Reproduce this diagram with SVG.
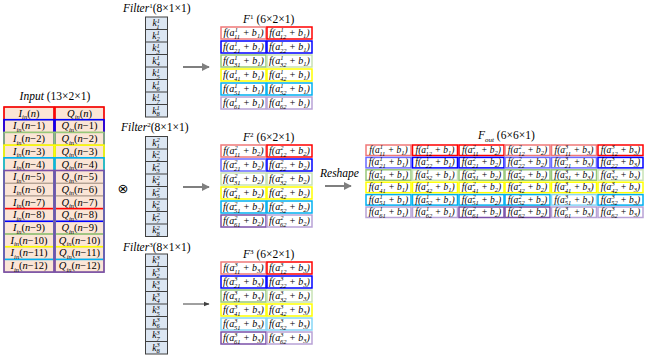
<svg xmlns="http://www.w3.org/2000/svg" width="646" height="357" viewBox="0 0 646 357">
<defs>
<style>
text{font-family:"Liberation Serif","Times New Roman",serif;fill:#000}
.it{font-style:italic}
.ti{font-size:11.5px}
.sp{font-size:7px}
.c{font-size:10px;font-style:italic;text-anchor:middle}
.co{font-size:9.5px;font-style:italic;text-anchor:middle}
.u{font-size:6.5px}
.in{font-size:10.5px;text-anchor:middle}
.k{font-size:9.5px;font-style:italic;text-anchor:middle}
.bx{fill:#fff;stroke-width:1.5}
.r{stroke:#ff0000}.rl{stroke:#f07878}
.b{stroke:#0000ff}.bl{stroke:#6a6aff}
.g{stroke:#98c878}.gl{stroke:#c8e2b4}
.y{stroke:#ffff00}
.cy{stroke:#00b0f0}.cl{stroke:#86d6f6}
.p{stroke:#7a4fa8}.pl{stroke:#b8a2d6}
.fc{fill:#dce6f2;stroke:#404040;stroke-width:1}
.ic{fill:#fbe5d6;stroke:#7f6f5f;stroke-width:0.8}
.win{fill:none;stroke-width:1.6}
.arr{stroke:#7f7f7f;stroke-width:2;fill:none}
</style>
<marker id="ah" viewBox="0 0 10 10" refX="9" refY="5" markerWidth="4" markerHeight="4" orient="auto">
<path d="M0,0 L10,5 L0,10 z" fill="#7f7f7f"/>
</marker>
<marker id="ah2" viewBox="0 0 10 10" refX="9" refY="5" markerWidth="6" markerHeight="6" orient="auto">
<path d="M0,1 L10,5 L0,9 z" fill="#404040"/>
</marker>
</defs>

<g id="input">
<text class="ti" x="55" y="100" text-anchor="middle"><tspan class="it">Input</tspan>  (13×2×1)</text>
<rect class="ic" x="4" y="107" width="50" height="165.1"/>
<rect class="ic" x="55" y="107" width="49" height="165.1"/>
<path d="M4,119.7H104M4,132.4H104M4,145.1H104M4,157.8H104M4,170.5H104M4,183.2H104M4,195.9H104M4,208.6H104M4,221.3H104M4,234H104M4,246.7H104M4,259.4H104" stroke="#7f6f5f" stroke-width="0.8"/>
<rect class="win r" x="4" y="107" width="50" height="101.6"/><rect class="win r" x="55" y="107" width="49" height="101.6"/>
<rect class="win b" x="4" y="119.7" width="50" height="101.6"/><rect class="win b" x="55" y="119.7" width="49" height="101.6"/>
<rect class="win g" x="4" y="132.4" width="50" height="101.6"/><rect class="win g" x="55" y="132.4" width="49" height="101.6"/>
<rect class="win y" x="4" y="145.1" width="50" height="101.6"/><rect class="win y" x="55" y="145.1" width="49" height="101.6"/>
<rect class="win cy" x="4" y="157.8" width="50" height="101.6"/><rect class="win cy" x="55" y="157.8" width="49" height="101.6"/>
<rect class="win p" x="4" y="170.5" width="50" height="101.6"/><rect class="win p" x="55" y="170.5" width="49" height="101.6"/>
<text class="in" x="29" y="116.7"><tspan class="it">I</tspan><tspan class="u it" dy="2.5">in</tspan><tspan dy="-2.5">(</tspan><tspan class="it">n</tspan>)</text>
<text class="in" x="79.5" y="116.7"><tspan class="it">Q</tspan><tspan class="u it" dy="2.5">in</tspan><tspan dy="-2.5">(</tspan><tspan class="it">n</tspan>)</text>
<text class="in" x="29" y="129.4"><tspan class="it">I</tspan><tspan class="u it" dy="2.5">in</tspan><tspan dy="-2.5">(</tspan><tspan class="it">n</tspan>−1)</text>
<text class="in" x="79.5" y="129.4"><tspan class="it">Q</tspan><tspan class="u it" dy="2.5">in</tspan><tspan dy="-2.5">(</tspan><tspan class="it">n</tspan>−1)</text>
<text class="in" x="29" y="142.1"><tspan class="it">I</tspan><tspan class="u it" dy="2.5">in</tspan><tspan dy="-2.5">(</tspan><tspan class="it">n</tspan>−2)</text>
<text class="in" x="79.5" y="142.1"><tspan class="it">Q</tspan><tspan class="u it" dy="2.5">in</tspan><tspan dy="-2.5">(</tspan><tspan class="it">n</tspan>−2)</text>
<text class="in" x="29" y="154.8"><tspan class="it">I</tspan><tspan class="u it" dy="2.5">in</tspan><tspan dy="-2.5">(</tspan><tspan class="it">n</tspan>−3)</text>
<text class="in" x="79.5" y="154.8"><tspan class="it">Q</tspan><tspan class="u it" dy="2.5">in</tspan><tspan dy="-2.5">(</tspan><tspan class="it">n</tspan>−3)</text>
<text class="in" x="29" y="167.5"><tspan class="it">I</tspan><tspan class="u it" dy="2.5">in</tspan><tspan dy="-2.5">(</tspan><tspan class="it">n</tspan>−4)</text>
<text class="in" x="79.5" y="167.5"><tspan class="it">Q</tspan><tspan class="u it" dy="2.5">in</tspan><tspan dy="-2.5">(</tspan><tspan class="it">n</tspan>−4)</text>
<text class="in" x="29" y="180.2"><tspan class="it">I</tspan><tspan class="u it" dy="2.5">in</tspan><tspan dy="-2.5">(</tspan><tspan class="it">n</tspan>−5)</text>
<text class="in" x="79.5" y="180.2"><tspan class="it">Q</tspan><tspan class="u it" dy="2.5">in</tspan><tspan dy="-2.5">(</tspan><tspan class="it">n</tspan>−5)</text>
<text class="in" x="29" y="192.9"><tspan class="it">I</tspan><tspan class="u it" dy="2.5">in</tspan><tspan dy="-2.5">(</tspan><tspan class="it">n</tspan>−6)</text>
<text class="in" x="79.5" y="192.9"><tspan class="it">Q</tspan><tspan class="u it" dy="2.5">in</tspan><tspan dy="-2.5">(</tspan><tspan class="it">n</tspan>−6)</text>
<text class="in" x="29" y="205.6"><tspan class="it">I</tspan><tspan class="u it" dy="2.5">in</tspan><tspan dy="-2.5">(</tspan><tspan class="it">n</tspan>−7)</text>
<text class="in" x="79.5" y="205.6"><tspan class="it">Q</tspan><tspan class="u it" dy="2.5">in</tspan><tspan dy="-2.5">(</tspan><tspan class="it">n</tspan>−7)</text>
<text class="in" x="29" y="218.3"><tspan class="it">I</tspan><tspan class="u it" dy="2.5">in</tspan><tspan dy="-2.5">(</tspan><tspan class="it">n</tspan>−8)</text>
<text class="in" x="79.5" y="218.3"><tspan class="it">Q</tspan><tspan class="u it" dy="2.5">in</tspan><tspan dy="-2.5">(</tspan><tspan class="it">n</tspan>−8)</text>
<text class="in" x="29" y="231"><tspan class="it">I</tspan><tspan class="u it" dy="2.5">in</tspan><tspan dy="-2.5">(</tspan><tspan class="it">n</tspan>−9)</text>
<text class="in" x="79.5" y="231"><tspan class="it">Q</tspan><tspan class="u it" dy="2.5">in</tspan><tspan dy="-2.5">(</tspan><tspan class="it">n</tspan>−9)</text>
<text class="in" x="29" y="243.7"><tspan class="it">I</tspan><tspan class="u it" dy="2.5">in</tspan><tspan dy="-2.5">(</tspan><tspan class="it">n</tspan>−10)</text>
<text class="in" x="79.5" y="243.7"><tspan class="it">Q</tspan><tspan class="u it" dy="2.5">in</tspan><tspan dy="-2.5">(</tspan><tspan class="it">n</tspan>−10)</text>
<text class="in" x="29" y="256.4"><tspan class="it">I</tspan><tspan class="u it" dy="2.5">in</tspan><tspan dy="-2.5">(</tspan><tspan class="it">n</tspan>−11)</text>
<text class="in" x="79.5" y="256.4"><tspan class="it">Q</tspan><tspan class="u it" dy="2.5">in</tspan><tspan dy="-2.5">(</tspan><tspan class="it">n</tspan>−11)</text>
<text class="in" x="29" y="269.1"><tspan class="it">I</tspan><tspan class="u it" dy="2.5">in</tspan><tspan dy="-2.5">(</tspan><tspan class="it">n</tspan>−12)</text>
<text class="in" x="79.5" y="269.1"><tspan class="it">Q</tspan><tspan class="u it" dy="2.5">in</tspan><tspan dy="-2.5">(</tspan><tspan class="it">n</tspan>−12)</text>
</g>

<g id="conv">
<text x="123" y="193" text-anchor="middle" style="font-family:'DejaVu Sans',sans-serif;font-size:13px">⊗</text>
</g>

<g id="filter1">
<text class="ti" x="123" y="12"><tspan class="it">Filter</tspan><tspan class="sp" dy="-4">1</tspan><tspan dy="4">(8×1×1)</tspan></text>
<rect class="fc" x="145.5" y="17" width="22" height="100"/>
<path d="M145.5,29.5h22M145.5,42h22M145.5,54.5h22M145.5,67h22M145.5,79.5h22M145.5,92h22M145.5,104.5h22" stroke="#404040" stroke-width="1"/>
<text class="k" x="156" y="26">k<tspan class="u" dy="-3.5">1</tspan><tspan class="u" dx="-3.2" dy="6">1</tspan></text>
<text class="k" x="156" y="38.5">k<tspan class="u" dy="-3.5">1</tspan><tspan class="u" dx="-3.2" dy="6">2</tspan></text>
<text class="k" x="156" y="51">k<tspan class="u" dy="-3.5">1</tspan><tspan class="u" dx="-3.2" dy="6">3</tspan></text>
<text class="k" x="156" y="63.5">k<tspan class="u" dy="-3.5">1</tspan><tspan class="u" dx="-3.2" dy="6">4</tspan></text>
<text class="k" x="156" y="76">k<tspan class="u" dy="-3.5">1</tspan><tspan class="u" dx="-3.2" dy="6">5</tspan></text>
<text class="k" x="156" y="88.5">k<tspan class="u" dy="-3.5">1</tspan><tspan class="u" dx="-3.2" dy="6">6</tspan></text>
<text class="k" x="156" y="101">k<tspan class="u" dy="-3.5">1</tspan><tspan class="u" dx="-3.2" dy="6">7</tspan></text>
<text class="k" x="156" y="113.5">k<tspan class="u" dy="-3.5">1</tspan><tspan class="u" dx="-3.2" dy="6">8</tspan></text>
</g>

<g id="filter2">
<text class="ti" x="121" y="131"><tspan class="it">Filter</tspan><tspan class="sp" dy="-4">2</tspan><tspan dy="4">(8×1×1)</tspan></text>
<rect class="fc" x="145.5" y="136.5" width="22" height="100"/>
<path d="M145.5,149h22M145.5,161.5h22M145.5,174h22M145.5,186.5h22M145.5,199h22M145.5,211.5h22M145.5,224h22" stroke="#404040" stroke-width="1"/>
<text class="k" x="156" y="145.5">k<tspan class="u" dy="-3.5">2</tspan><tspan class="u" dx="-3.2" dy="6">1</tspan></text>
<text class="k" x="156" y="158">k<tspan class="u" dy="-3.5">2</tspan><tspan class="u" dx="-3.2" dy="6">2</tspan></text>
<text class="k" x="156" y="170.5">k<tspan class="u" dy="-3.5">2</tspan><tspan class="u" dx="-3.2" dy="6">3</tspan></text>
<text class="k" x="156" y="183">k<tspan class="u" dy="-3.5">2</tspan><tspan class="u" dx="-3.2" dy="6">4</tspan></text>
<text class="k" x="156" y="195.5">k<tspan class="u" dy="-3.5">2</tspan><tspan class="u" dx="-3.2" dy="6">5</tspan></text>
<text class="k" x="156" y="208">k<tspan class="u" dy="-3.5">2</tspan><tspan class="u" dx="-3.2" dy="6">6</tspan></text>
<text class="k" x="156" y="220.5">k<tspan class="u" dy="-3.5">2</tspan><tspan class="u" dx="-3.2" dy="6">7</tspan></text>
<text class="k" x="156" y="233">k<tspan class="u" dy="-3.5">2</tspan><tspan class="u" dx="-3.2" dy="6">8</tspan></text>
</g>

<g id="filter3">
<text class="ti" x="123" y="251"><tspan class="it">Filter</tspan><tspan class="sp" dy="-4">3</tspan><tspan dy="4">(8×1×1)</tspan></text>
<rect class="fc" x="145.5" y="254" width="22" height="100"/>
<path d="M145.5,266.5h22M145.5,279h22M145.5,291.5h22M145.5,304h22M145.5,316.5h22M145.5,329h22M145.5,341.5h22" stroke="#404040" stroke-width="1"/>
<text class="k" x="156" y="263">k<tspan class="u" dy="-3.5">3</tspan><tspan class="u" dx="-3.2" dy="6">1</tspan></text>
<text class="k" x="156" y="275.5">k<tspan class="u" dy="-3.5">3</tspan><tspan class="u" dx="-3.2" dy="6">2</tspan></text>
<text class="k" x="156" y="288">k<tspan class="u" dy="-3.5">3</tspan><tspan class="u" dx="-3.2" dy="6">3</tspan></text>
<text class="k" x="156" y="300.5">k<tspan class="u" dy="-3.5">3</tspan><tspan class="u" dx="-3.2" dy="6">4</tspan></text>
<text class="k" x="156" y="313">k<tspan class="u" dy="-3.5">3</tspan><tspan class="u" dx="-3.2" dy="6">5</tspan></text>
<text class="k" x="156" y="325.5">k<tspan class="u" dy="-3.5">3</tspan><tspan class="u" dx="-3.2" dy="6">6</tspan></text>
<text class="k" x="156" y="338">k<tspan class="u" dy="-3.5">3</tspan><tspan class="u" dx="-3.2" dy="6">7</tspan></text>
<text class="k" x="156" y="350.5">k<tspan class="u" dy="-3.5">3</tspan><tspan class="u" dx="-3.2" dy="6">8</tspan></text>
</g>

<g id="f1">
<text class="ti" x="243" y="23"><tspan class="it">F</tspan><tspan class="sp" dy="-4">1</tspan><tspan dy="4"> (6×2×1)</tspan></text>
<rect class="bx rl" x="221" y="27" width="45" height="12"/><rect class="bx r" x="267" y="27" width="45" height="12"/>
<rect class="bx b" x="221" y="41" width="45" height="12"/><rect class="bx b" x="267" y="41" width="45" height="12"/>
<rect class="bx g" x="221" y="55" width="45" height="12"/><rect class="bx gl" x="267" y="55" width="45" height="12"/>
<rect class="bx y" x="221" y="69" width="45" height="12"/><rect class="bx y" x="267" y="69" width="45" height="12"/>
<rect class="bx cy" x="221" y="83" width="45" height="12"/><rect class="bx cy" x="267" y="83" width="45" height="12"/>
<rect class="bx pl" x="221" y="97" width="45" height="12"/><rect class="bx pl" x="267" y="97" width="45" height="12"/>
<text class="c" x="243.5" y="36">f(a<tspan class="u" dy="-4">1</tspan><tspan class="u" dx="-3.3" dy="6.5">11</tspan><tspan dy="-2.5"> + b</tspan><tspan class="u" dy="2">1</tspan><tspan dy="-2">)</tspan></text>
<text class="c" x="289.5" y="36">f(a<tspan class="u" dy="-4">1</tspan><tspan class="u" dx="-3.3" dy="6.5">12</tspan><tspan dy="-2.5"> + b</tspan><tspan class="u" dy="2">1</tspan><tspan dy="-2">)</tspan></text>
<text class="c" x="243.5" y="50">f(a<tspan class="u" dy="-4">1</tspan><tspan class="u" dx="-3.3" dy="6.5">21</tspan><tspan dy="-2.5"> + b</tspan><tspan class="u" dy="2">1</tspan><tspan dy="-2">)</tspan></text>
<text class="c" x="289.5" y="50">f(a<tspan class="u" dy="-4">1</tspan><tspan class="u" dx="-3.3" dy="6.5">22</tspan><tspan dy="-2.5"> + b</tspan><tspan class="u" dy="2">1</tspan><tspan dy="-2">)</tspan></text>
<text class="c" x="243.5" y="64">f(a<tspan class="u" dy="-4">1</tspan><tspan class="u" dx="-3.3" dy="6.5">31</tspan><tspan dy="-2.5"> + b</tspan><tspan class="u" dy="2">1</tspan><tspan dy="-2">)</tspan></text>
<text class="c" x="289.5" y="64">f(a<tspan class="u" dy="-4">1</tspan><tspan class="u" dx="-3.3" dy="6.5">32</tspan><tspan dy="-2.5"> + b</tspan><tspan class="u" dy="2">1</tspan><tspan dy="-2">)</tspan></text>
<text class="c" x="243.5" y="78">f(a<tspan class="u" dy="-4">1</tspan><tspan class="u" dx="-3.3" dy="6.5">41</tspan><tspan dy="-2.5"> + b</tspan><tspan class="u" dy="2">1</tspan><tspan dy="-2">)</tspan></text>
<text class="c" x="289.5" y="78">f(a<tspan class="u" dy="-4">1</tspan><tspan class="u" dx="-3.3" dy="6.5">42</tspan><tspan dy="-2.5"> + b</tspan><tspan class="u" dy="2">1</tspan><tspan dy="-2">)</tspan></text>
<text class="c" x="243.5" y="92">f(a<tspan class="u" dy="-4">1</tspan><tspan class="u" dx="-3.3" dy="6.5">51</tspan><tspan dy="-2.5"> + b</tspan><tspan class="u" dy="2">1</tspan><tspan dy="-2">)</tspan></text>
<text class="c" x="289.5" y="92">f(a<tspan class="u" dy="-4">1</tspan><tspan class="u" dx="-3.3" dy="6.5">52</tspan><tspan dy="-2.5"> + b</tspan><tspan class="u" dy="2">1</tspan><tspan dy="-2">)</tspan></text>
<text class="c" x="243.5" y="106">f(a<tspan class="u" dy="-4">1</tspan><tspan class="u" dx="-3.3" dy="6.5">61</tspan><tspan dy="-2.5"> + b</tspan><tspan class="u" dy="2">1</tspan><tspan dy="-2">)</tspan></text>
<text class="c" x="289.5" y="106">f(a<tspan class="u" dy="-4">1</tspan><tspan class="u" dx="-3.3" dy="6.5">62</tspan><tspan dy="-2.5"> + b</tspan><tspan class="u" dy="2">1</tspan><tspan dy="-2">)</tspan></text>
</g>

<g id="f2">
<text class="ti" x="243" y="141"><tspan class="it">F</tspan><tspan class="sp" dy="-4">2</tspan><tspan dy="4"> (6×2×1)</tspan></text>
<rect class="bx rl" x="221" y="145" width="45" height="12"/><rect class="bx r" x="267" y="145" width="45" height="12"/>
<rect class="bx bl" x="221" y="159" width="45" height="12"/><rect class="bx b" x="267" y="159" width="45" height="12"/>
<rect class="bx gl" x="221" y="173" width="45" height="12"/><rect class="bx gl" x="267" y="173" width="45" height="12"/>
<rect class="bx y" x="221" y="187" width="45" height="12"/><rect class="bx y" x="267" y="187" width="45" height="12"/>
<rect class="bx cy" x="221" y="201" width="45" height="12"/><rect class="bx cy" x="267" y="201" width="45" height="12"/>
<rect class="bx p" x="221" y="215" width="45" height="12"/><rect class="bx pl" x="267" y="215" width="45" height="12"/>
<text class="c" x="243.5" y="154">f(a<tspan class="u" dy="-4">2</tspan><tspan class="u" dx="-3.3" dy="6.5">11</tspan><tspan dy="-2.5"> + b</tspan><tspan class="u" dy="2">2</tspan><tspan dy="-2">)</tspan></text>
<text class="c" x="289.5" y="154">f(a<tspan class="u" dy="-4">2</tspan><tspan class="u" dx="-3.3" dy="6.5">12</tspan><tspan dy="-2.5"> + b</tspan><tspan class="u" dy="2">2</tspan><tspan dy="-2">)</tspan></text>
<text class="c" x="243.5" y="168">f(a<tspan class="u" dy="-4">2</tspan><tspan class="u" dx="-3.3" dy="6.5">21</tspan><tspan dy="-2.5"> + b</tspan><tspan class="u" dy="2">2</tspan><tspan dy="-2">)</tspan></text>
<text class="c" x="289.5" y="168">f(a<tspan class="u" dy="-4">2</tspan><tspan class="u" dx="-3.3" dy="6.5">22</tspan><tspan dy="-2.5"> + b</tspan><tspan class="u" dy="2">2</tspan><tspan dy="-2">)</tspan></text>
<text class="c" x="243.5" y="182">f(a<tspan class="u" dy="-4">2</tspan><tspan class="u" dx="-3.3" dy="6.5">31</tspan><tspan dy="-2.5"> + b</tspan><tspan class="u" dy="2">2</tspan><tspan dy="-2">)</tspan></text>
<text class="c" x="289.5" y="182">f(a<tspan class="u" dy="-4">2</tspan><tspan class="u" dx="-3.3" dy="6.5">32</tspan><tspan dy="-2.5"> + b</tspan><tspan class="u" dy="2">2</tspan><tspan dy="-2">)</tspan></text>
<text class="c" x="243.5" y="196">f(a<tspan class="u" dy="-4">2</tspan><tspan class="u" dx="-3.3" dy="6.5">41</tspan><tspan dy="-2.5"> + b</tspan><tspan class="u" dy="2">2</tspan><tspan dy="-2">)</tspan></text>
<text class="c" x="289.5" y="196">f(a<tspan class="u" dy="-4">2</tspan><tspan class="u" dx="-3.3" dy="6.5">42</tspan><tspan dy="-2.5"> + b</tspan><tspan class="u" dy="2">2</tspan><tspan dy="-2">)</tspan></text>
<text class="c" x="243.5" y="210">f(a<tspan class="u" dy="-4">2</tspan><tspan class="u" dx="-3.3" dy="6.5">51</tspan><tspan dy="-2.5"> + b</tspan><tspan class="u" dy="2">2</tspan><tspan dy="-2">)</tspan></text>
<text class="c" x="289.5" y="210">f(a<tspan class="u" dy="-4">2</tspan><tspan class="u" dx="-3.3" dy="6.5">52</tspan><tspan dy="-2.5"> + b</tspan><tspan class="u" dy="2">2</tspan><tspan dy="-2">)</tspan></text>
<text class="c" x="243.5" y="224">f(a<tspan class="u" dy="-4">2</tspan><tspan class="u" dx="-3.3" dy="6.5">61</tspan><tspan dy="-2.5"> + b</tspan><tspan class="u" dy="2">2</tspan><tspan dy="-2">)</tspan></text>
<text class="c" x="289.5" y="224">f(a<tspan class="u" dy="-4">2</tspan><tspan class="u" dx="-3.3" dy="6.5">62</tspan><tspan dy="-2.5"> + b</tspan><tspan class="u" dy="2">2</tspan><tspan dy="-2">)</tspan></text>
</g>

<g id="f3">
<text class="ti" x="243" y="258"><tspan class="it">F</tspan><tspan class="sp" dy="-4">3</tspan><tspan dy="4"> (6×2×1)</tspan></text>
<rect class="bx rl" x="221" y="262" width="45" height="12"/><rect class="bx r" x="267" y="262" width="45" height="12"/>
<rect class="bx b" x="221" y="276" width="45" height="12"/><rect class="bx b" x="267" y="276" width="45" height="12"/>
<rect class="bx g" x="221" y="290" width="45" height="12"/><rect class="bx gl" x="267" y="290" width="45" height="12"/>
<rect class="bx y" x="221" y="304" width="45" height="12"/><rect class="bx y" x="267" y="304" width="45" height="12"/>
<rect class="bx cl" x="221" y="318" width="45" height="12"/><rect class="bx cl" x="267" y="318" width="45" height="12"/>
<rect class="bx p" x="221" y="332" width="45" height="12"/><rect class="bx pl" x="267" y="332" width="45" height="12"/>
<text class="c" x="243.5" y="271">f(a<tspan class="u" dy="-4">3</tspan><tspan class="u" dx="-3.3" dy="6.5">11</tspan><tspan dy="-2.5"> + b</tspan><tspan class="u" dy="2">3</tspan><tspan dy="-2">)</tspan></text>
<text class="c" x="289.5" y="271">f(a<tspan class="u" dy="-4">3</tspan><tspan class="u" dx="-3.3" dy="6.5">12</tspan><tspan dy="-2.5"> + b</tspan><tspan class="u" dy="2">3</tspan><tspan dy="-2">)</tspan></text>
<text class="c" x="243.5" y="285">f(a<tspan class="u" dy="-4">3</tspan><tspan class="u" dx="-3.3" dy="6.5">21</tspan><tspan dy="-2.5"> + b</tspan><tspan class="u" dy="2">3</tspan><tspan dy="-2">)</tspan></text>
<text class="c" x="289.5" y="285">f(a<tspan class="u" dy="-4">3</tspan><tspan class="u" dx="-3.3" dy="6.5">22</tspan><tspan dy="-2.5"> + b</tspan><tspan class="u" dy="2">3</tspan><tspan dy="-2">)</tspan></text>
<text class="c" x="243.5" y="299">f(a<tspan class="u" dy="-4">3</tspan><tspan class="u" dx="-3.3" dy="6.5">31</tspan><tspan dy="-2.5"> + b</tspan><tspan class="u" dy="2">3</tspan><tspan dy="-2">)</tspan></text>
<text class="c" x="289.5" y="299">f(a<tspan class="u" dy="-4">3</tspan><tspan class="u" dx="-3.3" dy="6.5">32</tspan><tspan dy="-2.5"> + b</tspan><tspan class="u" dy="2">3</tspan><tspan dy="-2">)</tspan></text>
<text class="c" x="243.5" y="313">f(a<tspan class="u" dy="-4">3</tspan><tspan class="u" dx="-3.3" dy="6.5">41</tspan><tspan dy="-2.5"> + b</tspan><tspan class="u" dy="2">3</tspan><tspan dy="-2">)</tspan></text>
<text class="c" x="289.5" y="313">f(a<tspan class="u" dy="-4">3</tspan><tspan class="u" dx="-3.3" dy="6.5">42</tspan><tspan dy="-2.5"> + b</tspan><tspan class="u" dy="2">3</tspan><tspan dy="-2">)</tspan></text>
<text class="c" x="243.5" y="327">f(a<tspan class="u" dy="-4">3</tspan><tspan class="u" dx="-3.3" dy="6.5">51</tspan><tspan dy="-2.5"> + b</tspan><tspan class="u" dy="2">3</tspan><tspan dy="-2">)</tspan></text>
<text class="c" x="289.5" y="327">f(a<tspan class="u" dy="-4">3</tspan><tspan class="u" dx="-3.3" dy="6.5">52</tspan><tspan dy="-2.5"> + b</tspan><tspan class="u" dy="2">3</tspan><tspan dy="-2">)</tspan></text>
<text class="c" x="243.5" y="341">f(a<tspan class="u" dy="-4">3</tspan><tspan class="u" dx="-3.3" dy="6.5">61</tspan><tspan dy="-2.5"> + b</tspan><tspan class="u" dy="2">3</tspan><tspan dy="-2">)</tspan></text>
<text class="c" x="289.5" y="341">f(a<tspan class="u" dy="-4">3</tspan><tspan class="u" dx="-3.3" dy="6.5">62</tspan><tspan dy="-2.5"> + b</tspan><tspan class="u" dy="2">3</tspan><tspan dy="-2">)</tspan></text>
</g>

<g id="fout">
<text class="ti" x="478" y="139"><tspan class="it">F</tspan><tspan class="sp it" dy="3">out</tspan><tspan dy="-3"> (6×6×1)</tspan></text>
<rect class="bx rl" x="366" y="145" width="45" height="10.5"/><rect class="bx r" x="412.5" y="145" width="45" height="10.5"/><rect class="bx r" x="459" y="145" width="45" height="10.5"/><rect class="bx rl" x="505" y="145" width="45" height="10.5"/><rect class="bx rl" x="551.5" y="145" width="45" height="10.5"/><rect class="bx r" x="598" y="145" width="45" height="10.5"/>
<rect class="bx bl" x="366" y="157.4" width="45" height="10.5"/><rect class="bx b" x="412.5" y="157.4" width="45" height="10.5"/><rect class="bx b" x="459" y="157.4" width="45" height="10.5"/><rect class="bx bl" x="505" y="157.4" width="45" height="10.5"/><rect class="bx bl" x="551.5" y="157.4" width="45" height="10.5"/><rect class="bx b" x="598" y="157.4" width="45" height="10.5"/>
<rect class="bx g" x="366" y="169.8" width="45" height="10.5"/><rect class="bx gl" x="412.5" y="169.8" width="45" height="10.5"/><rect class="bx g" x="459" y="169.8" width="45" height="10.5"/><rect class="bx g" x="505" y="169.8" width="45" height="10.5"/><rect class="bx g" x="551.5" y="169.8" width="45" height="10.5"/><rect class="bx gl" x="598" y="169.8" width="45" height="10.5"/>
<rect class="bx y" x="366" y="182.2" width="45" height="10.5"/><rect class="bx y" x="412.5" y="182.2" width="45" height="10.5"/><rect class="bx y" x="459" y="182.2" width="45" height="10.5"/><rect class="bx y" x="505" y="182.2" width="45" height="10.5"/><rect class="bx y" x="551.5" y="182.2" width="45" height="10.5"/><rect class="bx y" x="598" y="182.2" width="45" height="10.5"/>
<rect class="bx cy" x="366" y="194.6" width="45" height="10.5"/><rect class="bx cy" x="412.5" y="194.6" width="45" height="10.5"/><rect class="bx cy" x="459" y="194.6" width="45" height="10.5"/><rect class="bx cy" x="505" y="194.6" width="45" height="10.5"/><rect class="bx cl" x="551.5" y="194.6" width="45" height="10.5"/><rect class="bx cy" x="598" y="194.6" width="45" height="10.5"/>
<rect class="bx pl" x="366" y="207" width="45" height="10.5"/><rect class="bx pl" x="412.5" y="207" width="45" height="10.5"/><rect class="bx p" x="459" y="207" width="45" height="10.5"/><rect class="bx p" x="505" y="207" width="45" height="10.5"/><rect class="bx pl" x="551.5" y="207" width="45" height="10.5"/><rect class="bx pl" x="598" y="207" width="45" height="10.5"/>
<text class="co" x="388.5" y="153">f(a<tspan class="u" dy="-4">1</tspan><tspan class="u" dx="-3.3" dy="6.5">11</tspan><tspan dy="-2.5"> + b</tspan><tspan class="u" dy="2">1</tspan><tspan dy="-2">)</tspan></text>
<text class="co" x="435" y="153">f(a<tspan class="u" dy="-4">1</tspan><tspan class="u" dx="-3.3" dy="6.5">12</tspan><tspan dy="-2.5"> + b</tspan><tspan class="u" dy="2">1</tspan><tspan dy="-2">)</tspan></text>
<text class="co" x="481.5" y="153">f(a<tspan class="u" dy="-4">2</tspan><tspan class="u" dx="-3.3" dy="6.5">11</tspan><tspan dy="-2.5"> + b</tspan><tspan class="u" dy="2">2</tspan><tspan dy="-2">)</tspan></text>
<text class="co" x="527.5" y="153">f(a<tspan class="u" dy="-4">2</tspan><tspan class="u" dx="-3.3" dy="6.5">12</tspan><tspan dy="-2.5"> + b</tspan><tspan class="u" dy="2">2</tspan><tspan dy="-2">)</tspan></text>
<text class="co" x="574" y="153">f(a<tspan class="u" dy="-4">3</tspan><tspan class="u" dx="-3.3" dy="6.5">11</tspan><tspan dy="-2.5"> + b</tspan><tspan class="u" dy="2">3</tspan><tspan dy="-2">)</tspan></text>
<text class="co" x="620.5" y="153">f(a<tspan class="u" dy="-4">3</tspan><tspan class="u" dx="-3.3" dy="6.5">12</tspan><tspan dy="-2.5"> + b</tspan><tspan class="u" dy="2">3</tspan><tspan dy="-2">)</tspan></text>
<text class="co" x="388.5" y="165.4">f(a<tspan class="u" dy="-4">1</tspan><tspan class="u" dx="-3.3" dy="6.5">21</tspan><tspan dy="-2.5"> + b</tspan><tspan class="u" dy="2">1</tspan><tspan dy="-2">)</tspan></text>
<text class="co" x="435" y="165.4">f(a<tspan class="u" dy="-4">1</tspan><tspan class="u" dx="-3.3" dy="6.5">22</tspan><tspan dy="-2.5"> + b</tspan><tspan class="u" dy="2">1</tspan><tspan dy="-2">)</tspan></text>
<text class="co" x="481.5" y="165.4">f(a<tspan class="u" dy="-4">2</tspan><tspan class="u" dx="-3.3" dy="6.5">21</tspan><tspan dy="-2.5"> + b</tspan><tspan class="u" dy="2">2</tspan><tspan dy="-2">)</tspan></text>
<text class="co" x="527.5" y="165.4">f(a<tspan class="u" dy="-4">2</tspan><tspan class="u" dx="-3.3" dy="6.5">22</tspan><tspan dy="-2.5"> + b</tspan><tspan class="u" dy="2">2</tspan><tspan dy="-2">)</tspan></text>
<text class="co" x="574" y="165.4">f(a<tspan class="u" dy="-4">3</tspan><tspan class="u" dx="-3.3" dy="6.5">21</tspan><tspan dy="-2.5"> + b</tspan><tspan class="u" dy="2">3</tspan><tspan dy="-2">)</tspan></text>
<text class="co" x="620.5" y="165.4">f(a<tspan class="u" dy="-4">3</tspan><tspan class="u" dx="-3.3" dy="6.5">22</tspan><tspan dy="-2.5"> + b</tspan><tspan class="u" dy="2">3</tspan><tspan dy="-2">)</tspan></text>
<text class="co" x="388.5" y="177.8">f(a<tspan class="u" dy="-4">1</tspan><tspan class="u" dx="-3.3" dy="6.5">31</tspan><tspan dy="-2.5"> + b</tspan><tspan class="u" dy="2">1</tspan><tspan dy="-2">)</tspan></text>
<text class="co" x="435" y="177.8">f(a<tspan class="u" dy="-4">1</tspan><tspan class="u" dx="-3.3" dy="6.5">32</tspan><tspan dy="-2.5"> + b</tspan><tspan class="u" dy="2">1</tspan><tspan dy="-2">)</tspan></text>
<text class="co" x="481.5" y="177.8">f(a<tspan class="u" dy="-4">2</tspan><tspan class="u" dx="-3.3" dy="6.5">31</tspan><tspan dy="-2.5"> + b</tspan><tspan class="u" dy="2">2</tspan><tspan dy="-2">)</tspan></text>
<text class="co" x="527.5" y="177.8">f(a<tspan class="u" dy="-4">2</tspan><tspan class="u" dx="-3.3" dy="6.5">32</tspan><tspan dy="-2.5"> + b</tspan><tspan class="u" dy="2">2</tspan><tspan dy="-2">)</tspan></text>
<text class="co" x="574" y="177.8">f(a<tspan class="u" dy="-4">3</tspan><tspan class="u" dx="-3.3" dy="6.5">31</tspan><tspan dy="-2.5"> + b</tspan><tspan class="u" dy="2">3</tspan><tspan dy="-2">)</tspan></text>
<text class="co" x="620.5" y="177.8">f(a<tspan class="u" dy="-4">3</tspan><tspan class="u" dx="-3.3" dy="6.5">32</tspan><tspan dy="-2.5"> + b</tspan><tspan class="u" dy="2">3</tspan><tspan dy="-2">)</tspan></text>
<text class="co" x="388.5" y="190.2">f(a<tspan class="u" dy="-4">1</tspan><tspan class="u" dx="-3.3" dy="6.5">41</tspan><tspan dy="-2.5"> + b</tspan><tspan class="u" dy="2">1</tspan><tspan dy="-2">)</tspan></text>
<text class="co" x="435" y="190.2">f(a<tspan class="u" dy="-4">1</tspan><tspan class="u" dx="-3.3" dy="6.5">42</tspan><tspan dy="-2.5"> + b</tspan><tspan class="u" dy="2">1</tspan><tspan dy="-2">)</tspan></text>
<text class="co" x="481.5" y="190.2">f(a<tspan class="u" dy="-4">2</tspan><tspan class="u" dx="-3.3" dy="6.5">41</tspan><tspan dy="-2.5"> + b</tspan><tspan class="u" dy="2">2</tspan><tspan dy="-2">)</tspan></text>
<text class="co" x="527.5" y="190.2">f(a<tspan class="u" dy="-4">2</tspan><tspan class="u" dx="-3.3" dy="6.5">42</tspan><tspan dy="-2.5"> + b</tspan><tspan class="u" dy="2">2</tspan><tspan dy="-2">)</tspan></text>
<text class="co" x="574" y="190.2">f(a<tspan class="u" dy="-4">3</tspan><tspan class="u" dx="-3.3" dy="6.5">41</tspan><tspan dy="-2.5"> + b</tspan><tspan class="u" dy="2">3</tspan><tspan dy="-2">)</tspan></text>
<text class="co" x="620.5" y="190.2">f(a<tspan class="u" dy="-4">3</tspan><tspan class="u" dx="-3.3" dy="6.5">42</tspan><tspan dy="-2.5"> + b</tspan><tspan class="u" dy="2">3</tspan><tspan dy="-2">)</tspan></text>
<text class="co" x="388.5" y="202.6">f(a<tspan class="u" dy="-4">1</tspan><tspan class="u" dx="-3.3" dy="6.5">51</tspan><tspan dy="-2.5"> + b</tspan><tspan class="u" dy="2">1</tspan><tspan dy="-2">)</tspan></text>
<text class="co" x="435" y="202.6">f(a<tspan class="u" dy="-4">1</tspan><tspan class="u" dx="-3.3" dy="6.5">52</tspan><tspan dy="-2.5"> + b</tspan><tspan class="u" dy="2">1</tspan><tspan dy="-2">)</tspan></text>
<text class="co" x="481.5" y="202.6">f(a<tspan class="u" dy="-4">2</tspan><tspan class="u" dx="-3.3" dy="6.5">51</tspan><tspan dy="-2.5"> + b</tspan><tspan class="u" dy="2">2</tspan><tspan dy="-2">)</tspan></text>
<text class="co" x="527.5" y="202.6">f(a<tspan class="u" dy="-4">2</tspan><tspan class="u" dx="-3.3" dy="6.5">52</tspan><tspan dy="-2.5"> + b</tspan><tspan class="u" dy="2">2</tspan><tspan dy="-2">)</tspan></text>
<text class="co" x="574" y="202.6">f(a<tspan class="u" dy="-4">3</tspan><tspan class="u" dx="-3.3" dy="6.5">51</tspan><tspan dy="-2.5"> + b</tspan><tspan class="u" dy="2">3</tspan><tspan dy="-2">)</tspan></text>
<text class="co" x="620.5" y="202.6">f(a<tspan class="u" dy="-4">3</tspan><tspan class="u" dx="-3.3" dy="6.5">52</tspan><tspan dy="-2.5"> + b</tspan><tspan class="u" dy="2">3</tspan><tspan dy="-2">)</tspan></text>
<text class="co" x="388.5" y="215">f(a<tspan class="u" dy="-4">1</tspan><tspan class="u" dx="-3.3" dy="6.5">61</tspan><tspan dy="-2.5"> + b</tspan><tspan class="u" dy="2">1</tspan><tspan dy="-2">)</tspan></text>
<text class="co" x="435" y="215">f(a<tspan class="u" dy="-4">1</tspan><tspan class="u" dx="-3.3" dy="6.5">62</tspan><tspan dy="-2.5"> + b</tspan><tspan class="u" dy="2">1</tspan><tspan dy="-2">)</tspan></text>
<text class="co" x="481.5" y="215">f(a<tspan class="u" dy="-4">2</tspan><tspan class="u" dx="-3.3" dy="6.5">61</tspan><tspan dy="-2.5"> + b</tspan><tspan class="u" dy="2">2</tspan><tspan dy="-2">)</tspan></text>
<text class="co" x="527.5" y="215">f(a<tspan class="u" dy="-4">2</tspan><tspan class="u" dx="-3.3" dy="6.5">62</tspan><tspan dy="-2.5"> + b</tspan><tspan class="u" dy="2">2</tspan><tspan dy="-2">)</tspan></text>
<text class="co" x="574" y="215">f(a<tspan class="u" dy="-4">3</tspan><tspan class="u" dx="-3.3" dy="6.5">61</tspan><tspan dy="-2.5"> + b</tspan><tspan class="u" dy="2">3</tspan><tspan dy="-2">)</tspan></text>
<text class="co" x="620.5" y="215">f(a<tspan class="u" dy="-4">3</tspan><tspan class="u" dx="-3.3" dy="6.5">62</tspan><tspan dy="-2.5"> + b</tspan><tspan class="u" dy="2">3</tspan><tspan dy="-2">)</tspan></text>
</g>

<g id="connectors">
<line class="arr" x1="183" y1="67" x2="209" y2="67" marker-end="url(#ah)"/>
<line class="arr" x1="183" y1="187" x2="209" y2="187" marker-end="url(#ah)"/>
<line x1="183" y1="304" x2="209" y2="304" stroke="#404040" stroke-width="1" marker-end="url(#ah2)"/>
<line class="arr" x1="325" y1="186" x2="351" y2="186" marker-end="url(#ah)"/>
<text class="it" x="320" y="177" style="font-size:11.5px">Reshape</text>
</g>
</svg>
